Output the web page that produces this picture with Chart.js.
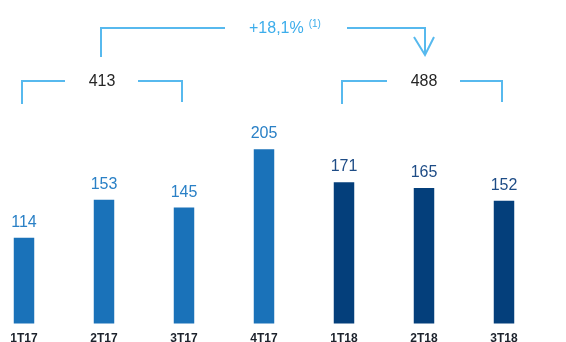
<!DOCTYPE html>
<html>
<head>
<meta charset="utf-8">
<script src="https://cdn.jsdelivr.net/npm/chart.js@4/dist/chart.umd.min.js"></script>
<style>
  html, body { margin: 0; padding: 0; background: #fff; overflow: hidden; width: 566px; height: 342px; }
  #wrap { position: absolute; left: -16px; top: 0; width: 560px; height: 354px; }
</style>
</head>
<body>
<div id="wrap"><canvas id="c" width="560" height="354"></canvas></div>
<script>
const categories = ['1T17', '2T17', '3T17', '4T17', '1T18', '2T18', '3T18'];
const values = [114, 153, 145, 205, 171, 165, 152];
const years = ['2017', '2017', '2017', '2017', '2018', '2018', '2018'];
const periodTotals = ['413', '488'];
const periodGroups = [[0, 2], [4, 6]];
const growthLabel = '+18,1%';
const growthNote = '(1)';

const barColors = { '2017': '#1a72b9', '2018': '#043f7b' };
const labelColors = { '2017': '#2a80c6', '2018': '#1e4c86' };
const lineColor = '#57b9ee';

const annotate = {
  id: 'annotate',
  afterDatasetsDraw(chart) {
    const ctx = chart.ctx;
    const meta = chart.getDatasetMeta(0);
    ctx.save();
    ctx.font = '16px "Liberation Sans", Arial, sans-serif';
    ctx.textAlign = 'center';
    ctx.textBaseline = 'alphabetic';
    meta.data.forEach((bar, i) => {
      ctx.fillStyle = labelColors[years[i]];
      ctx.fillText(String(values[i]), bar.x, bar.y - 11);
    });
    ctx.restore();
  },
  afterDraw(chart) {
    const ctx = chart.ctx;
    const xs = chart.scales.x;
    ctx.save();
    ctx.strokeStyle = lineColor;
    ctx.lineWidth = 2;
    ctx.lineCap = 'butt';
    const mids = [];
    periodGroups.forEach((g, k) => {
      const xl = xs.getPixelForValue(g[0]) - 2;
      const xr = xs.getPixelForValue(g[1]) - 2;
      const mid = (xl + xr) / 2 + (k === 1 ? 2 : 0);
      mids.push(mid);
      const y = 81, yb = 104;
      ctx.beginPath();
      ctx.moveTo(xl, yb); ctx.lineTo(xl, y); ctx.lineTo(mid - 37, y);
      ctx.moveTo(mid + 36, y); ctx.lineTo(xr, y); ctx.lineTo(xr, yb - 2);
      ctx.stroke();
      ctx.fillStyle = '#262626';
      ctx.font = '16px "Liberation Sans", Arial, sans-serif';
      ctx.textAlign = 'center';
      ctx.textBaseline = 'middle';
      ctx.fillText(periodTotals[k], mid, 82);
    });
    // top growth arrow
    const x1 = mids[0] - 1, x2 = mids[1] + 1, yt = 28;
    const c = (x1 + x2) / 2;
    ctx.beginPath();
    ctx.moveTo(x1, 57); ctx.lineTo(x1, yt); ctx.lineTo(c - 38, yt);
    ctx.moveTo(c + 84, yt); ctx.lineTo(x2, yt); ctx.lineTo(x2, 55);
    ctx.moveTo(x2 - 11, 37); ctx.lineTo(x2, 55); ctx.lineTo(x2 + 9, 37);
    ctx.stroke();
    ctx.fillStyle = '#3cadeb';
    ctx.font = '16px "Liberation Sans", Arial, sans-serif';
    ctx.textAlign = 'left';
    ctx.textBaseline = 'middle';
    ctx.fillText(growthLabel, c - 14, 29);
    const w = ctx.measureText(growthLabel).width;
    ctx.font = '10px "Liberation Sans", Arial, sans-serif';
    ctx.fillText(growthNote, c - 14 + w + 5, 24);
    ctx.restore();
  }
};

new Chart(document.getElementById('c'), {
  type: 'bar',
  data: {
    labels: categories,
    datasets: [{
      data: values,
      backgroundColor: years.map(y => barColors[y]),
      borderWidth: 0,
      barPercentage: 0.256,
      categoryPercentage: 1
    }]
  },
  options: {
    responsive: false,
    animation: false,
    devicePixelRatio: 1,
    layout: { padding: 0 },
    plugins: { legend: { display: false }, tooltip: { enabled: false } },
    scales: {
      x: {
        offset: true,
        grid: { display: false, drawTicks: false, tickLength: 0 },
        border: { display: false },
        ticks: {
          padding: 8,
          color: '#1c222c',
          font: { family: '"Liberation Sans", Arial, sans-serif', size: 12, weight: 'bold' },
          maxRotation: 0,
          autoSkip: false
        }
      },
      y: {
        display: false,
        min: 26,
        max: 358
      }
    }
  },
  plugins: [annotate]
});
</script>
</body>
</html>
